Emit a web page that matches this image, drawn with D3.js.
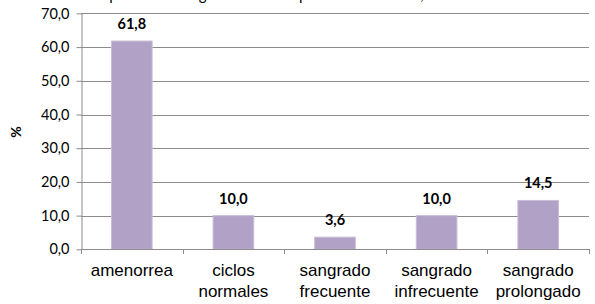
<!DOCTYPE html>
<html>
<head>
<meta charset="utf-8">
<script src="https://cdn.jsdelivr.net/npm/d3@7"></script>
<style>
  html, body { margin: 0; padding: 0; background: #fff; }
  svg { display: block; }
</style>
</head>
<body>
<div id="chart"></div>
<script>
const categories = [
  ['amenorrea'],
  ['ciclos', 'normales'],
  ['sangrado', 'frecuente'],
  ['sangrado', 'infrecuente'],
  ['sangrado', 'prolongado']
];
const values = [61.8, 10.0, 3.6, 10.0, 14.5];
const yTicks = [0, 10, 20, 30, 40, 50, 60, 70];

const width = 595, height = 304;
const plotLeft = 81, plotRight = 589, plotTop = 13.4, plotBottom = 249.3;

const svg = d3.select('#chart').append('svg')
  .attr('width', width)
  .attr('height', height);

const fmt = v => d3.format('.1f')(v).replace('.', ',');

// title is cut at the top of the picture, only descenders show
svg.append('text')
  .attr('x', 320)
  .attr('y', -0.5)
  .attr('text-anchor', 'middle')
  .attr('font-family', 'Lato, sans-serif')
  .attr('font-size', 15)
  .attr('fill', '#000')
  .text('patrón de sangrado con el implante subdérmico, a los seis meses');

const x = d3.scaleBand()
  .domain(d3.range(categories.length))
  .range([plotLeft, plotRight])
  .paddingInner(0.6)
  .paddingOuter(0.3);

const y = d3.scaleLinear().domain([0, 70]).range([plotBottom, plotTop]);

// gridlines
svg.append('g')
  .selectAll('line')
  .data(yTicks.filter(d => d > 0))
  .join('line')
  .attr('x1', plotLeft).attr('x2', plotRight)
  .attr('y1', d => Math.round(y(d)) + 0.5)
  .attr('y2', d => Math.round(y(d)) + 0.5)
  .attr('stroke', '#8c8c8c')
  .attr('stroke-width', 1);

// y axis
const yAxis = svg.append('g')
  .attr('transform', `translate(${plotLeft + 0.5},0)`)
  .call(d3.axisLeft(y).tickValues(yTicks).tickSize(5).tickSizeOuter(0).tickFormat(fmt));
yAxis.select('.domain').attr('stroke', '#8c8c8c');
yAxis.selectAll('.tick line').attr('stroke', '#8c8c8c');
yAxis.selectAll('.tick text')
  .attr('x', -12)
  .attr('font-family', 'Lato, sans-serif')
  .attr('font-size', 14.5)
  .attr('fill', '#000');

// bars
svg.append('g')
  .selectAll('rect')
  .data(values)
  .join('rect')
  .attr('x', (d, i) => x(i))
  .attr('y', d => y(d))
  .attr('width', x.bandwidth())
  .attr('height', d => plotBottom - y(d))
  .attr('fill', '#b1a1c7')
  .attr('stroke', '#c9bdd9')
  .attr('stroke-width', 1);

// value labels
svg.append('g')
  .selectAll('text')
  .data(values)
  .join('text')
  .attr('x', (d, i) => x(i) + x.bandwidth() / 2)
  .attr('y', d => y(d) - 12)
  .attr('text-anchor', 'middle')
  .attr('font-family', 'Lato, sans-serif')
  .attr('font-weight', 'bold')
  .attr('font-size', 14.5)
  .attr('fill', '#000')
  .text(fmt);

// x axis
const step = x.step();
const xAxisG = svg.append('g');
xAxisG.append('line')
  .attr('x1', plotLeft).attr('x2', plotRight)
  .attr('y1', Math.round(plotBottom) + 0.5).attr('y2', Math.round(plotBottom) + 0.5)
  .attr('stroke', '#8c8c8c');
xAxisG.selectAll('line.tick')
  .data(d3.range(categories.length + 1))
  .join('line')
  .attr('class', 'tick')
  .attr('x1', i => Math.round(plotLeft + i * step) + 0.5)
  .attr('x2', i => Math.round(plotLeft + i * step) + 0.5)
  .attr('y1', Math.round(plotBottom))
  .attr('y2', Math.round(plotBottom) + 5)
  .attr('stroke', '#8c8c8c');

const catText = xAxisG.selectAll('text.cat')
  .data(categories)
  .join('text')
  .attr('class', 'cat')
  .attr('text-anchor', 'middle')
  .attr('font-family', '"Liberation Sans", Arial, sans-serif')
  .attr('font-size', 17)
  .attr('fill', '#000');
catText.selectAll('tspan')
  .data((d, i) => d.map(line => ({ line, i })))
  .join('tspan')
  .attr('x', d => x(d.i) + x.bandwidth() / 2)
  .attr('y', (d, j) => 276 + j * 21)
  .text(d => d.line);

// y axis title
svg.append('text')
  .attr('transform', 'translate(21,132) rotate(-90)')
  .attr('text-anchor', 'middle')
  .attr('font-family', 'Lato, sans-serif')
  .attr('font-weight', 'bold')
  .attr('font-size', 14)
  .attr('fill', '#000')
  .text('%');
</script>
</body>
</html>
